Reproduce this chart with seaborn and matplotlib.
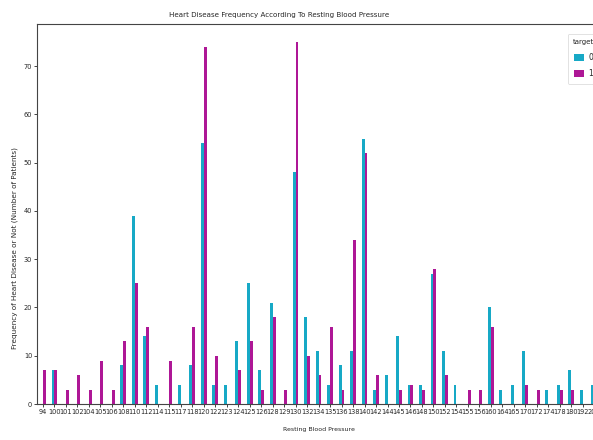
import matplotlib
matplotlib.use("Agg")
import matplotlib.pyplot as plt
import seaborn as sns
import pandas as pd

# Data
trestbps = [94, 100, 101, 102, 104, 105, 106, 108, 110, 112, 114, 115, 117, 118,
            120, 122, 123, 124, 125, 126, 128, 129, 130, 132, 134, 135, 136, 138,
            140, 142, 144, 145, 146, 148, 150, 152, 154, 155, 156, 160, 164, 165,
            170, 172, 174, 178, 180, 192, 200]
target0 = [0, 7, 0, 0, 0, 0, 0, 8, 39, 14, 4, 0, 4, 8,
           54, 4, 4, 13, 25, 7, 21, 0, 48, 18, 11, 4, 8, 11,
           55, 3, 6, 14, 4, 4, 27, 11, 4, 0, 0, 20, 3, 4,
           11, 0, 3, 4, 7, 3, 4]
target1 = [7, 7, 3, 6, 3, 9, 3, 13, 25, 16, 0, 9, 0, 16,
           74, 10, 0, 7, 13, 3, 18, 3, 75, 10, 6, 16, 3, 34,
           52, 6, 0, 3, 4, 3, 28, 6, 0, 3, 3, 16, 0, 0,
           4, 3, 0, 3, 3, 0, 0]
target_levels = [0, 1]
colors = ["#17A9C6", "#AE1796"]

labels = [str(v) for v in trestbps]
df = pd.DataFrame({
    "trestbps": labels * 2,
    "target": [0] * len(labels) + [1] * len(labels),
    "count": target0 + target1,
})

sns.set_style("white")
fig = plt.figure(figsize=(5.93, 4.40), dpi=100)
ax = fig.add_axes([37.2 / 593, 1 - 404 / 440, (600 - 37.2) / 593, 380 / 440])

sns.barplot(data=df, x="trestbps", y="count", hue="target", order=labels,
            hue_order=target_levels, palette=colors, saturation=1, width=0.5,
            errorbar=None, ax=ax, linewidth=0)

ax.set_title("Heart Disease Frequency According To Resting Blood Pressure",
             fontsize=5.1, pad=5, x=0.43)
ax.set_xlabel("Resting Blood Pressure", fontsize=4.5, labelpad=9)
ax.set_ylabel("Frequency of Heart Disease or Not (Number of Patients)", fontsize=5.2,
              labelpad=4)
ax.yaxis.set_label_coords(-0.034, 0.41)
ax.set_yticks(range(0, 80, 10))
ax.tick_params(axis="both", labelsize=4.8, length=2, width=0.6, pad=1.5, left=True, bottom=True)
for s in ax.spines.values():
    s.set_linewidth(0.8)
    s.set_color("#444444")
leg = ax.legend(title="target", fontsize=5.5, title_fontsize=5, loc="upper left",
                bbox_to_anchor=((564 - 37.2) / 562.8, (404 - 30) / 380),
                frameon=True, borderpad=0.7, handlelength=1.3, labelspacing=1.0,
                handleheight=1.0, handletextpad=0.6)
leg.get_frame().set_linewidth(0.5)

fig.savefig("out.png", dpi=100)
